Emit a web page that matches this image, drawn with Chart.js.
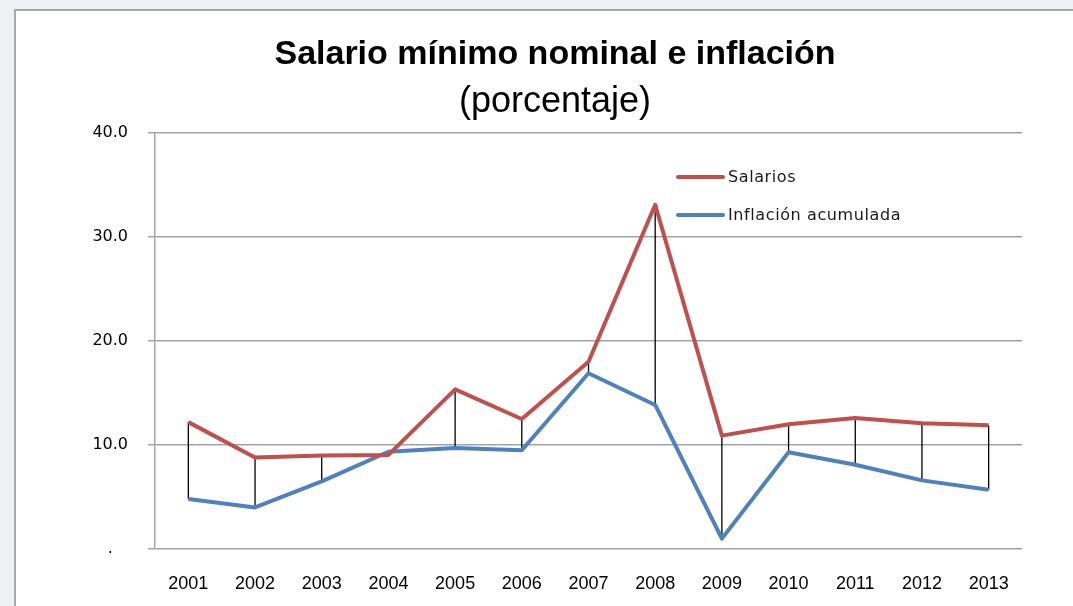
<!DOCTYPE html>
<html>
<head>
<meta charset="utf-8">
<script src="https://cdn.jsdelivr.net/npm/chart.js@4"></script>
<style>
  html, body { margin: 0; padding: 0; width: 1073px; height: 606px; overflow: hidden; background: #eef0f3; }
  #box { position: absolute; left: 14px; top: 9px; width: 1059px; height: 597px; border-left: 2px solid #a8a8a8; border-top: 2px solid #a8a8a8; background: #ffffff; }
  #wrap { position: absolute; left: 0; top: 0; width: 1057px; height: 595px; }
</style>
</head>
<body>
<div id="box"><div id="wrap"><canvas id="c"></canvas></div></div>
<script>
const categories = ['2001','2002','2003','2004','2005','2006','2007','2008','2009','2010','2011','2012','2013'];
const salarios = [12.2, 8.8, 9.0, 9.05, 15.35, 12.5, 18.0, 33.1, 10.9, 12.0, 12.6, 12.1, 11.9];
const inflacion = [4.8, 4.0, 6.5, 9.35, 9.7, 9.5, 16.9, 13.85, 1.0, 9.3, 8.1, 6.6, 5.7];
const seriesNames = ['Salarios', 'Inflación acumulada'];
const yTicks = [0, 10, 20, 30, 40];
const titleText = 'Salario mínimo nominal e inflación';
const subtitleText = '(porcentaje)';

const RED = '#C0504D';
const BLUE = '#4F81BD';

const dropLines = {
  id: 'dropLines',
  beforeDatasetsDraw(chart) {
    const ctx = chart.ctx;
    const x = chart.scales.x, y = chart.scales.y;
    ctx.save();
    ctx.strokeStyle = '#000000';
    ctx.lineWidth = 1.3;
    for (let i = 0; i < categories.length; i++) {
      const px = x.getPixelForValue(i);
      ctx.beginPath();
      ctx.moveTo(px, y.getPixelForValue(salarios[i]));
      ctx.lineTo(px, y.getPixelForValue(inflacion[i]));
      ctx.stroke();
    }
    ctx.restore();
  }
};

const innerLegend = {
  id: 'innerLegend',
  afterDraw(chart) {
    const ctx = chart.ctx;
    const a = chart.chartArea;
    const x0 = a.left + 523, x1 = a.left + 568, tx = a.left + 573;
    const rows = [a.top + 44, a.top + 82];
    ctx.save();
    ctx.font = '16px "DejaVu Sans"';
    ctx.textBaseline = 'middle';
    ctx.textAlign = 'left';
    try { ctx.letterSpacing = '0.6px'; } catch (e) {}
    chart.data.datasets.forEach((ds, i) => {
      ctx.strokeStyle = ds.borderColor;
      ctx.lineWidth = 4;
      ctx.lineCap = 'round';
      ctx.beginPath();
      ctx.moveTo(x0, rows[i]);
      ctx.lineTo(x1, rows[i]);
      ctx.stroke();
      ctx.fillStyle = '#1a1a1a';
      ctx.fillText(ds.label, tx, rows[i] + 1);
    });
    ctx.restore();
  }
};

new Chart(document.getElementById('c'), {
  type: 'line',
  data: {
    labels: categories,
    datasets: [
      { label: seriesNames[0], data: salarios, borderColor: RED, backgroundColor: RED, borderWidth: 4, pointRadius: 0, tension: 0, borderJoinStyle: 'round' },
      { label: seriesNames[1], data: inflacion, borderColor: BLUE, backgroundColor: BLUE, borderWidth: 4, pointRadius: 0, tension: 0, borderJoinStyle: 'round' }
    ]
  },
  options: {
    responsive: true,
    maintainAspectRatio: false,
    animation: false,
    layout: { padding: { left: 72, right: 51, top: 0, bottom: 0 } },
    plugins: {
      legend: { display: false },
      tooltip: { enabled: false },
      title: {
        display: true,
        text: titleText,
        color: '#000000',
        font: { family: '"Liberation Sans"', size: 34, weight: 'bold' },
        padding: { top: 23, bottom: 0 }
      },
      subtitle: {
        display: true,
        text: subtitleText,
        color: '#000000',
        font: { family: '"Liberation Sans"', size: 36, weight: 'normal' },
        padding: { top: 6, bottom: 9 }
      }
    },
    scales: {
      x: {
        type: 'category',
        offset: true,
        grid: { display: false },
        border: { display: false },
        ticks: {
          color: '#000000',
          font: { family: '"Liberation Sans"', size: 18 },
          padding: 16,
          maxRotation: 0,
          autoSkip: false
        },
        afterFit(scale) { scale.height = 57; }
      },
      y: {
        min: 0,
        max: 40,
        afterBuildTicks(scale) { scale.ticks = yTicks.map(v => ({ value: v })); },
        grid: { color: '#a3a3a3', lineWidth: 1.5, drawTicks: true, tickLength: 7, tickColor: '#a3a3a3' },
        border: { display: true, color: '#a3a3a3', width: 1.5 },
        ticks: {
          color: '#000000',
          font: { family: '"DejaVu Sans"', size: 16 },
          padding: 20,
          callback(v) { return v === 0 ? '.   ' : Number(v).toFixed(1); }
        },
        afterFit(scale) { scale.width = 67; }
      }
    }
  },
  plugins: [dropLines, innerLegend]
});
</script>
</body>
</html>
